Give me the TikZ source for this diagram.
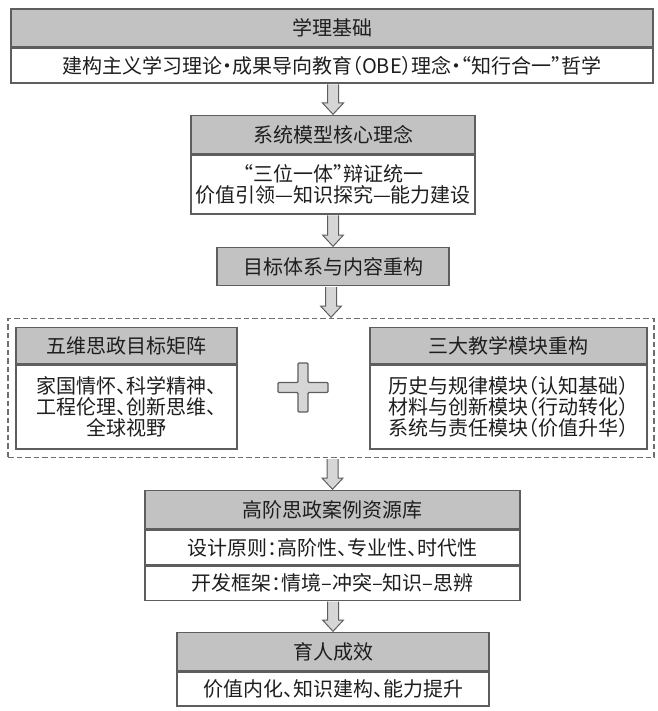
\documentclass[tikz,border=0pt]{standalone}
\usepackage{fontspec}
\setmainfont{Noto Sans CJK SC}[RawFeature=+halt]
\usetikzlibrary{calc}
\definecolor{bordc}{HTML}{5E5E5E}
\definecolor{headc}{HTML}{C2C2C2}
\definecolor{arrc}{HTML}{D6D6D6}
\definecolor{txtc}{HTML}{1E1E1E}
\tikzset{
  base/.style={draw=bordc, line width=1.3pt, text=txtc,
    font=\fontsize{20}{21}\selectfont, inner sep=0pt, anchor=north, align=center},
  head/.style={base, fill=headc},
  row/.style={base, fill=white},
  blockarr/.style={draw=bordc, fill=arrc, line width=1pt, line join=miter},
  grpbox/.style={draw=bordc!90, dash pattern=on 5.5pt off 3pt, line width=1.3pt,
    inner sep=0pt, anchor=north},
}
\newcommand{\blockarrow}[2]{%
  \draw[blockarr] let \p1=(#1.south), \p2=(#2.north) in
    (\x2-5.5pt,\y1-0.7pt) -- (\x2-5.5pt,\y2+12pt) -- (\x2-10.5pt,\y2+12pt)
    -- (\x2,\y2+0.7pt) -- (\x2+10.5pt,\y2+12pt) -- (\x2+5.5pt,\y2+12pt)
    -- (\x2+5.5pt,\y1-0.7pt);
}
\begin{document}
\begin{tikzpicture}[x=1pt,y=-1pt]
\useasboundingbox (0,0) rectangle (657,711);

% box 1
\node[head, minimum width=642pt, minimum height=37.5pt] (h1) at (332,8.5) {学理基础};
\node[row, minimum width=642pt, minimum height=35pt] (r1) at (h1.south)
  {建构主义学习理论·成果导向教育（OBE）理念·“知行合一”哲学};

% box 2
\node[head, minimum width=284pt, minimum height=38pt] (h2) at (333,115) {系统模型核心理念};
\node[row, minimum width=284pt, minimum height=59pt] (r2) at (h2.south)
  {“三位一体”辩证统一\\价值引领—知识探究—能力建设};

% box 3
\node[head, minimum width=232pt, minimum height=38pt] (h3) at (333,247) {目标体系与内容重构};

% group
\node[grpbox, minimum width=646pt, minimum height=139pt] (grp) at (331,318) {};
\node[head, minimum width=221pt, minimum height=36pt] (hl) at (126.5,327) {五维思政目标矩阵};
\node[row, minimum width=221pt, minimum height=84pt] (rl) at (hl.south)
  {家国情怀、科学精神、\\工程伦理、创新思维、\\全球视野};
\node[head, minimum width=277pt, minimum height=36pt] (hr) at (508.5,327) {三大教学模块重构};
\node[row, minimum width=277pt, minimum height=84pt] (rr) at (hr.south)
  {历史与规律模块（认知基础）\\材料与创新模块（行动转化）\\系统与责任模块（价值升华）};

% plus sign
\coordinate (plus) at (303,387.5);
\draw[blockarr, line width=1.3pt, rounded corners=1pt]
  ($(plus)+(-5,-24.5)$) -- ($(plus)+(5,-24.5)$) -- ($(plus)+(5,-5)$) -- ($(plus)+(25,-5)$)
  -- ($(plus)+(25,5)$) -- ($(plus)+(5,5)$) -- ($(plus)+(5,24.5)$) -- ($(plus)+(-5,24.5)$)
  -- ($(plus)+(-5,5)$) -- ($(plus)+(-25,5)$) -- ($(plus)+(-25,-5)$) -- ($(plus)+(-5,-5)$) -- cycle;

% box 4
\node[head, minimum width=375pt, minimum height=38pt] (h4) at (332.5,490) {高阶思政案例资源库};
\node[row, minimum width=375pt, minimum height=35pt] (r4a) at (h4.south)
  {设计原则：高阶性、专业性、时代性};
\node[row, minimum width=375pt, minimum height=34pt] (r4b) at (r4a.south)
  {开发框架：情境–冲突–知识–思辨};

% box 5
\node[head, minimum width=312pt, minimum height=38pt] (h5) at (333,632) {育人成效};
\node[row, minimum width=312pt, minimum height=34pt] (r5) at (h5.south)
  {价值内化、知识建构、能力提升};

% arrows
\blockarrow{r1}{h2}
\blockarrow{r2}{h3}
\blockarrow{h3}{grp}
\blockarrow{grp}{h4}
\blockarrow{r4b}{h5}
\end{tikzpicture}
\end{document}
